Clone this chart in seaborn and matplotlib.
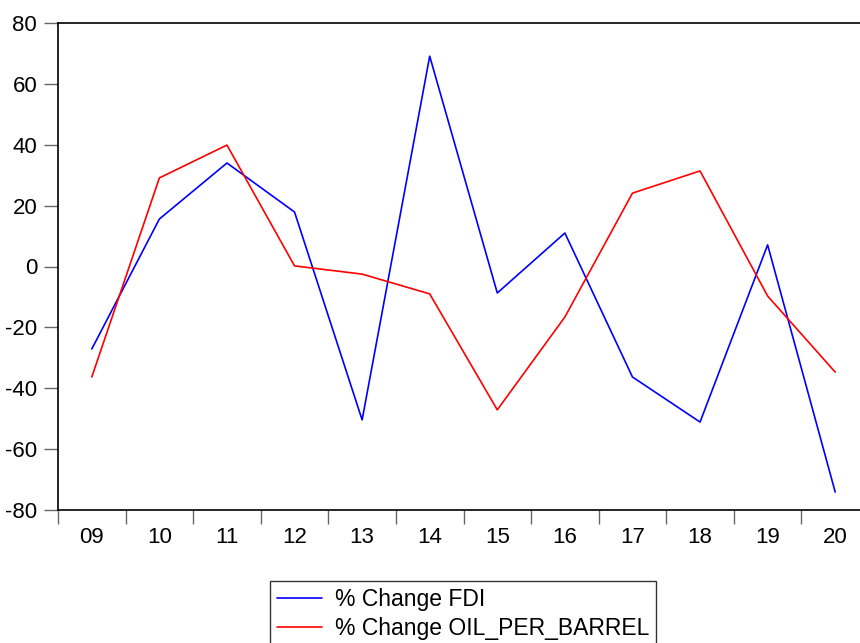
import numpy as np
import pandas as pd
import matplotlib.pyplot as plt
import seaborn as sns
from matplotlib.ticker import FixedLocator

years = ["09", "10", "11", "12", "13", "14", "15", "16", "17", "18", "19", "20"]
fdi = [-27.1, 15.6, 34.0, 17.9, -50.4, 69.1, -8.7, 11.0, -36.3, -51.1, 7.1, -74.1]
oil = [-36.3, 29.1, 39.9, 0.2, -2.5, -9.0, -47.1, -16.6, 24.1, 31.4, -9.7, -34.7]
names = ["% Change FDI", "% Change OIL_PER_BARREL"]

df = pd.DataFrame({
    "year": years * 2,
    "value": fdi + oil,
    "series": [names[0]] * len(years) + [names[1]] * len(years),
})

sns.set_style("white")
plt.rcParams["font.family"] = ["Liberation Sans", "DejaVu Sans"]
plt.rcParams["axes.unicode_minus"] = False
plt.rcParams["text.color"] = "black"
plt.rcParams["xtick.color"] = "black"
plt.rcParams["ytick.color"] = "black"

fig = plt.figure(figsize=(8.6, 6.43), dpi=100)
ax = fig.add_axes([58 / 860, 1 - 510 / 643, (869 - 58) / 860, (510 - 23) / 643])

sns.lineplot(data=df, x="year", y="value", hue="series", sort=False,
             palette=["#0000ff", "#ff0000"], linewidth=1.2, ax=ax)

ax.set_xlim(-0.5, len(years) - 0.5)
ax.set_ylim(-80, 80)
ax.set_yticks(np.arange(-80, 81, 20))
ax.set_xticks(range(len(years)))
ax.set_xticklabels(years)
ax.xaxis.set_minor_locator(FixedLocator(np.arange(-0.5, len(years), 1)))
ax.set_xlabel("")
ax.set_ylabel("")

for s in ["left", "top", "bottom"]:
    ax.spines[s].set_visible(True)
    ax.spines[s].set_color("black")
    ax.spines[s].set_linewidth(1.2)
ax.spines["right"].set_visible(False)

ax.tick_params(axis="y", which="major", direction="out", length=10, width=1,
               color="#666666", labelcolor="black", labelsize=16, pad=5, left=True)
ax.tick_params(axis="x", which="major", length=0, labelcolor="black",
               labelsize=16, pad=12)
ax.tick_params(axis="x", which="minor", direction="out", length=10, width=1,
               color="#666666", bottom=True)

ax.legend_.remove()
leg = fig.legend(*ax.get_legend_handles_labels(), loc="upper center",
                 bbox_to_anchor=(463 / 860, 1 - 581 / 643), ncol=1,
                 fontsize=16.5, frameon=True, fancybox=False, edgecolor="black",
                 handlelength=2.0, borderpad=0.3, labelspacing=0.25,
                 handletextpad=0.55, borderaxespad=0)
leg.get_frame().set_linewidth(1.0)
for t in leg.get_texts():
    t.set_color("black")

fig.savefig("out.png", dpi=100)
